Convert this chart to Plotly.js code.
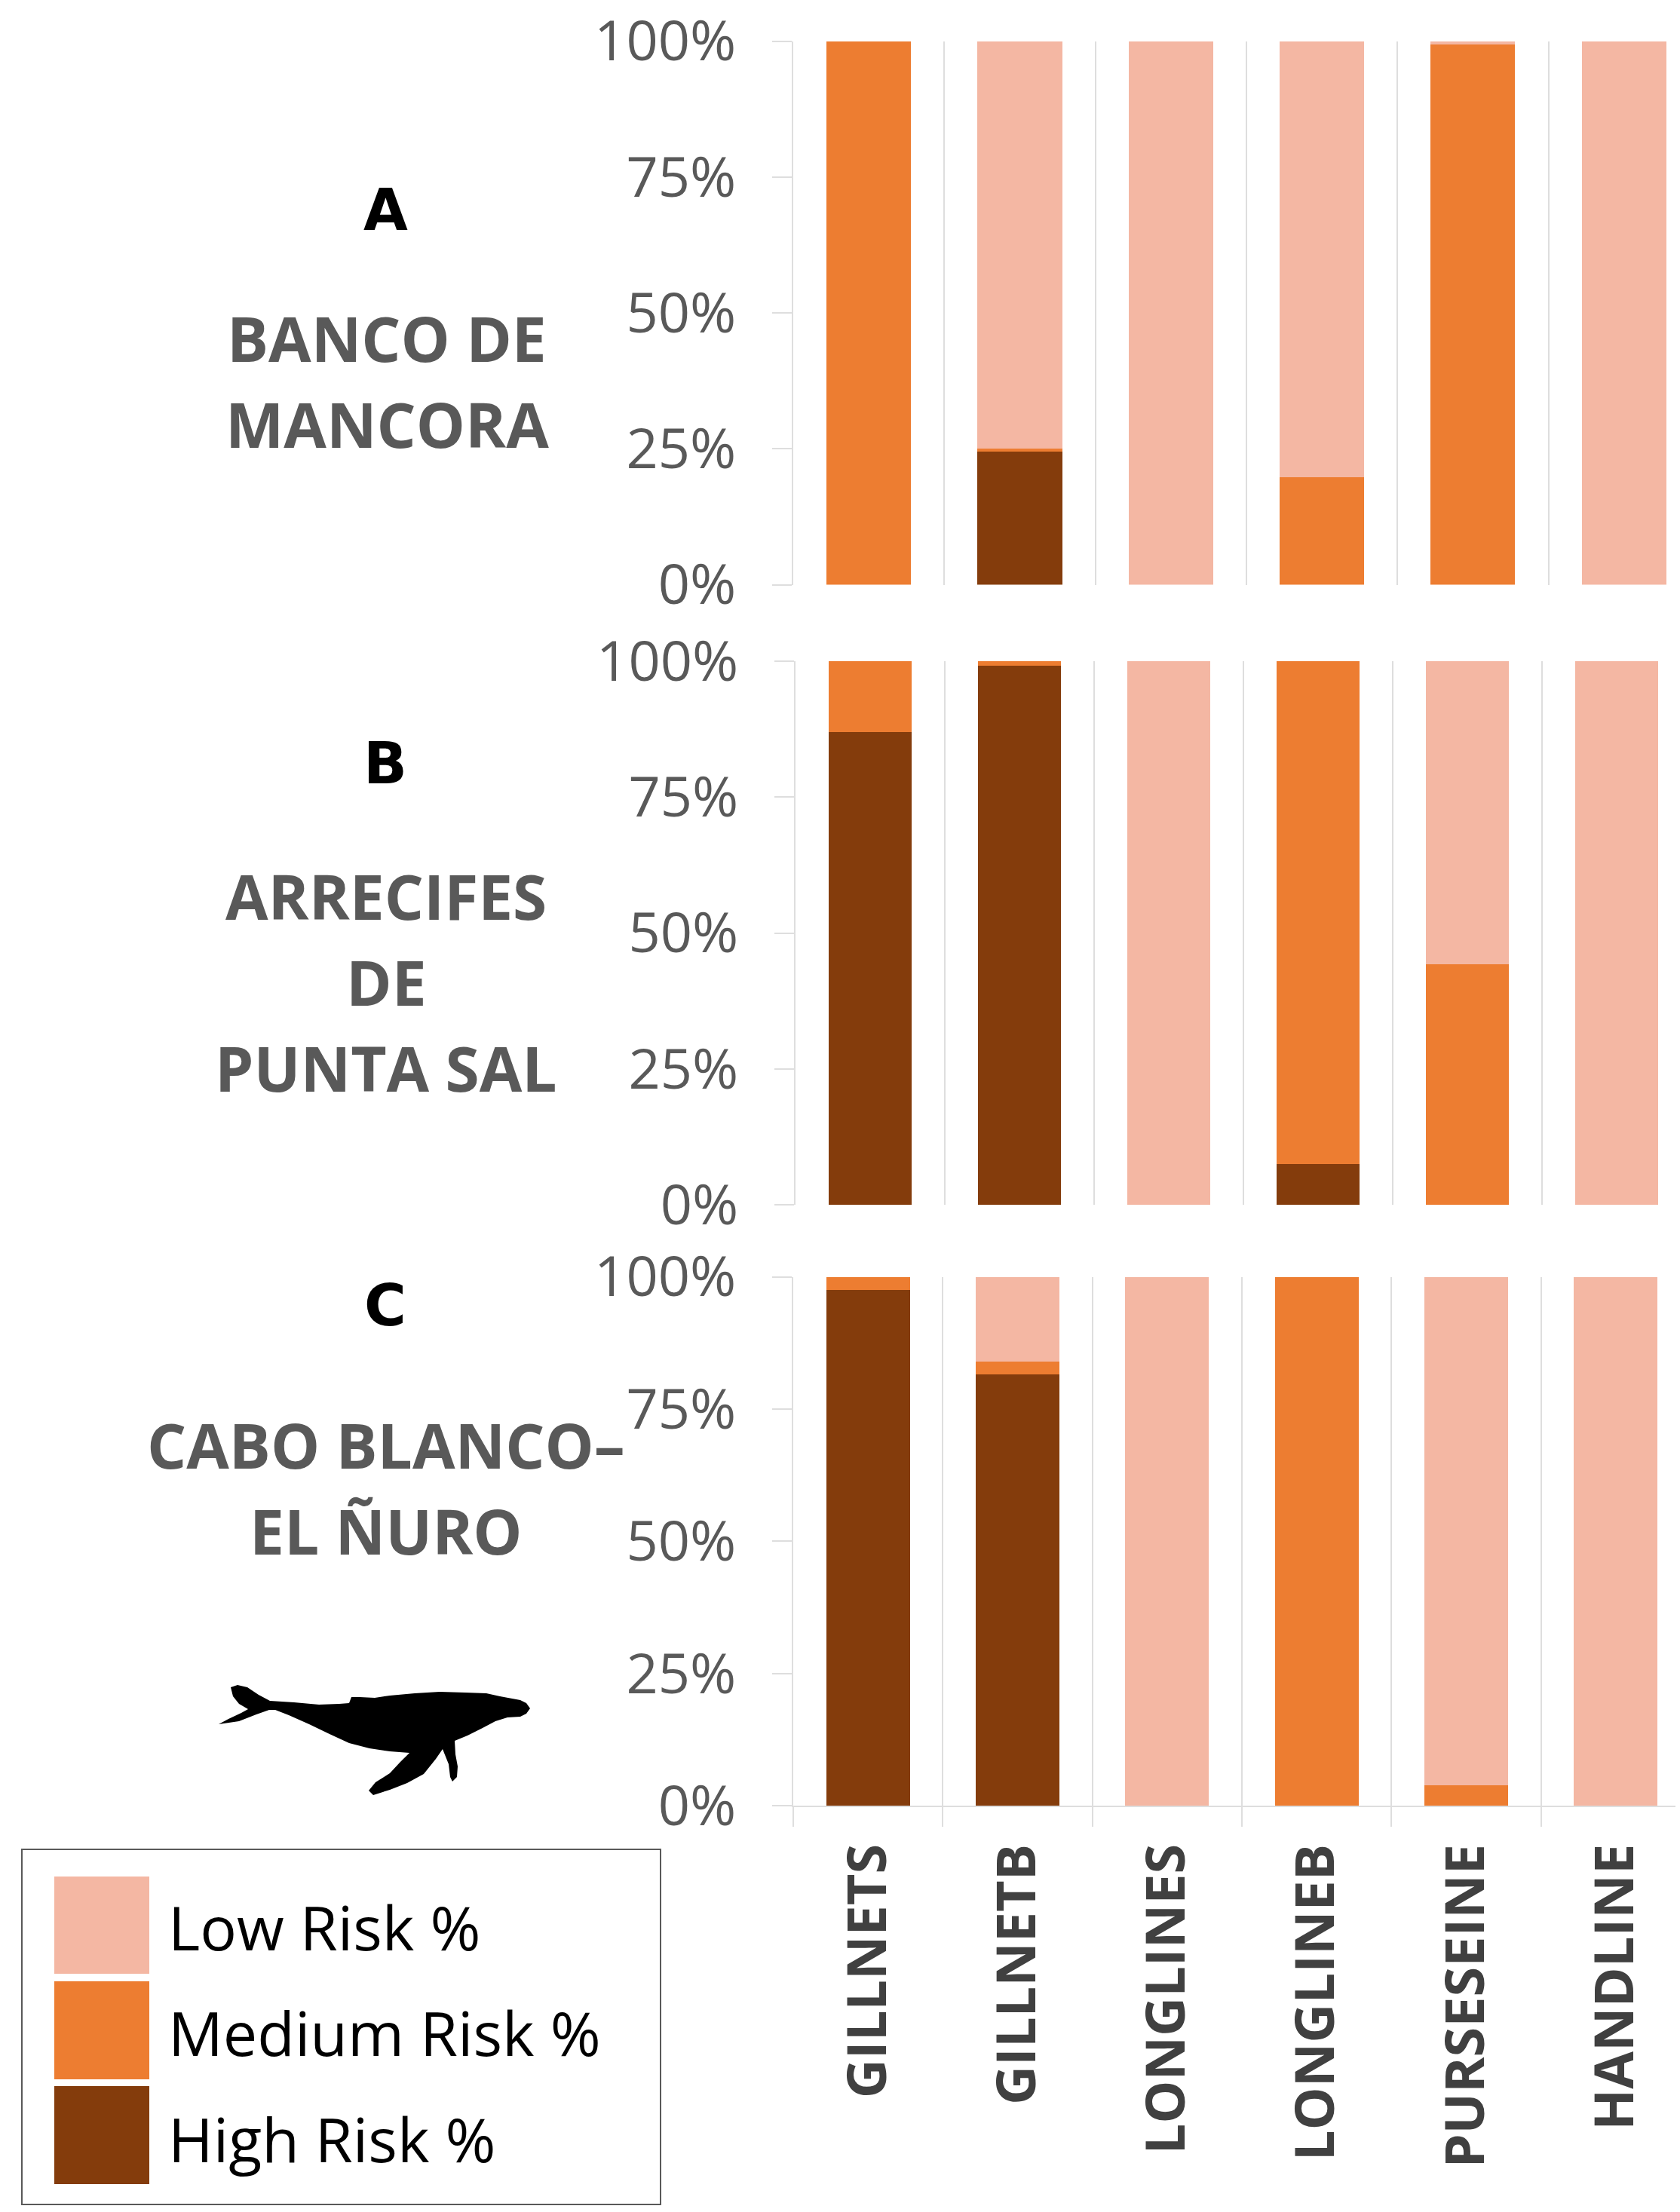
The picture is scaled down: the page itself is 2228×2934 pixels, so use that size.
<!DOCTYPE html>
<html>
<head>
<meta charset="utf-8">
<script src="https://cdn.plot.ly/plotly-3.0.1.min.js"></script>
<style>
body { margin: 0; background: #fff; }
</style>
</head>
<body>
<div id="chart" style="width:2228px;height:2934px"></div>
<script>
var gears = ["GILLNETS", "GILLNETB", "LONGLINES", "LONGLINEB", "PURSESEINE", "HANDLINE"];
var y_ticks = [0, 25, 50, 75, 100];

var banco_high = [0, 24.5, 0, 0, 0, 0];
var banco_med = [100, 0.6, 0, 19.7, 99.4, 0];
var banco_low = [0, 74.9, 100, 80.3, 0.6, 100];

var punta_high = [87, 99.2, 0, 7.5, 0, 0];
var punta_med = [13, 0.8, 0, 92.5, 44.2, 0];
var punta_low = [0, 0, 100, 0, 55.8, 100];

var cabo_high = [97.5, 81.6, 0, 0, 0, 0];
var cabo_med = [2.5, 2.4, 0, 100, 3.9, 0];
var cabo_low = [0, 16, 100, 0, 96.1, 100];

var risk_names = ["Low Risk %", "Medium Risk %", "High Risk %"];
var risk_colors = ["#F4B7A3", "#ED7D31", "#843C0C"];

var W = 2228, H = 2934;
var main_font = "'Open Sans', Lato, sans-serif";

function px(x) { return x / W; }
function py(y) { return 1 - y / H; }

// high goes first so it sits at the bottom of the stack
function stackTraces(high, med, low, xa, ya) {
    var series = [[high, 2], [med, 1], [low, 0]];
    var traces = [];
    for (var i = 0; i < 3; i++) {
        traces.push({
            type: "bar",
            x: gears,
            y: series[i][0],
            name: risk_names[series[i][1]],
            marker: {color: risk_colors[series[i][1]], line: {width: 0}},
            xaxis: xa,
            yaxis: ya,
            showlegend: false
        });
    }
    return traces;
}

function xAxis(left, right, cat_width, anchor, with_labels) {
    return {
        type: "category",
        domain: [px(left), px(right)],
        range: [-0.5, -0.5 + (right - left) / cat_width],
        anchor: anchor,
        tickson: "boundaries",
        showgrid: true,
        gridcolor: "#dedede",
        gridwidth: 2,
        zeroline: false,
        showline: with_labels,
        linecolor: "#dedede",
        linewidth: 2,
        ticks: with_labels ? "outside" : "",
        ticklen: 26,
        tickwidth: 2,
        tickcolor: "#dedede",
        showticklabels: with_labels,
        tickangle: -90,
        ticklabelstandoff: 20,
        tickfont: {family: main_font, size: 72, color: "#404040", weight: 700}
    };
}

function yAxis(top, bottom, anchor) {
    return {
        domain: [py(bottom), py(top)],
        range: [0, 100],
        anchor: anchor,
        tickmode: "array",
        tickvals: y_ticks,
        ticktext: y_ticks.map(function (v) { return v + "%"; }),
        showgrid: false,
        zeroline: false,
        showline: true,
        linecolor: "#dedede",
        linewidth: 2,
        ticks: "outside",
        ticklen: 26,
        tickwidth: 2,
        tickcolor: "#dedede",
        ticklabelstandoff: 33,
        tickfont: {family: main_font, size: 74, color: "#595959"}
    };
}

// text lines at the left of each panel: [text, centre x, centre y]
var site_lines = [
    ["BANCO DE", 513, 448],
    ["MANCORA", 513, 562],
    ["ARRECIFES", 512, 1188],
    ["DE", 512, 1302],
    ["PUNTA SAL", 512, 1416],
    ["CABO BLANCO–", 512, 1916],
    ["EL ÑURO", 512, 2030]
];
var panel_letters = [["A", 511, 278], ["B", 511, 1013], ["C", 511, 1731]];

// whale outline in page pixels
var whale_x = [306,315,328,343,358,390,423,450,463,466,477,497,517,550,583,617,645,663,690,698,703,698,690,673,657,640,620,603,604,607,606,600,597,595,587,578,562,540,517,495,489,498,517,530,543,517,490,463,437,410,383,365,357,340,317,290,303,320,329,317,309];
var whale_y = [2238,2235,2238,2248,2256,2258,2261,2260,2259,2251,2251,2252,2249,2246,2244,2245,2246,2250,2255,2259,2266,2273,2277,2278,2283,2292,2302,2309,2327,2343,2357,2363,2357,2340,2320,2333,2353,2365,2374,2381,2375,2364,2352,2338,2325,2323,2319,2312,2300,2287,2275,2268,2268,2274,2283,2287,2280,2272,2267,2260,2250];

function whalePath() {
    var d = "";
    for (var i = 0; i < whale_x.length; i++) {
        d += (i == 0 ? "M" : "L") + px(whale_x[i]).toFixed(5) + "," + py(whale_y[i]).toFixed(5);
    }
    return d + "Z";
}

function paperRect(x0, y0, x1, y1, fill, line_color) {
    return {
        type: "rect", xref: "paper", yref: "paper",
        x0: px(x0), x1: px(x1), y0: py(y0), y1: py(y1),
        fillcolor: fill,
        line: line_color ? {color: line_color, width: 2} : {width: 0}
    };
}

function paperText(text, x, y, font, xanchor) {
    return {
        text: text, xref: "paper", yref: "paper",
        x: px(x), y: py(y), xanchor: xanchor || "center", yanchor: "middle",
        showarrow: false, font: font
    };
}

function drawChart() {
    var traces = stackTraces(banco_high, banco_med, banco_low, "x", "y")
        .concat(stackTraces(punta_high, punta_med, punta_low, "x2", "y2"))
        .concat(stackTraces(cabo_high, cabo_med, cabo_low, "x3", "y3"));

    var shapes = [
        paperRect(29, 2453, 876, 2924, "rgba(0,0,0,0)", "#595959"),
        paperRect(72, 2489, 198, 2618, risk_colors[0]),
        paperRect(72, 2628, 198, 2758, risk_colors[1]),
        paperRect(72, 2767, 198, 2897, risk_colors[2]),
        {type: "path", xref: "paper", yref: "paper", path: whalePath(), fillcolor: "#000", line: {width: 0}}
    ];

    var notes = [];
    site_lines.forEach(function (l) {
        notes.push(paperText(l[0], l[1], l[2], {family: main_font, size: 82, color: "#595959", weight: 700}));
    });
    panel_letters.forEach(function (l) {
        notes.push(paperText(l[0], l[1], l[2], {family: "'DejaVu Sans', sans-serif", size: 76, color: "#000", weight: 700}));
    });
    var legend_y = [2555, 2695, 2836];
    for (var i = 0; i < 3; i++) {
        notes.push(paperText(risk_names[i], 221, legend_y[i], {family: main_font, size: 81, color: "#000"}, "left"));
    }

    var layout = {
        width: W,
        height: H,
        margin: {l: 0, r: 0, t: 0, b: 0, pad: 0},
        paper_bgcolor: "#fff",
        plot_bgcolor: "rgba(0,0,0,0)",
        barmode: "stack",
        bargap: 0.44,
        xaxis: xAxis(1052, 2222, 200.3, "y", false),
        yaxis: yAxis(54.5, 775.5, "x"),
        xaxis2: xAxis(1055, 2222, 198, "y2", false),
        yaxis2: yAxis(877, 1598, "x2"),
        xaxis3: xAxis(1052, 2222, 198.3, "y3", true),
        yaxis3: yAxis(1693.5, 2395, "x3"),
        shapes: shapes,
        annotations: notes
    };

    Plotly.newPlot("chart", traces, layout, {displayModeBar: false, staticPlot: true});
}

drawChart();
</script>
</body>
</html>
